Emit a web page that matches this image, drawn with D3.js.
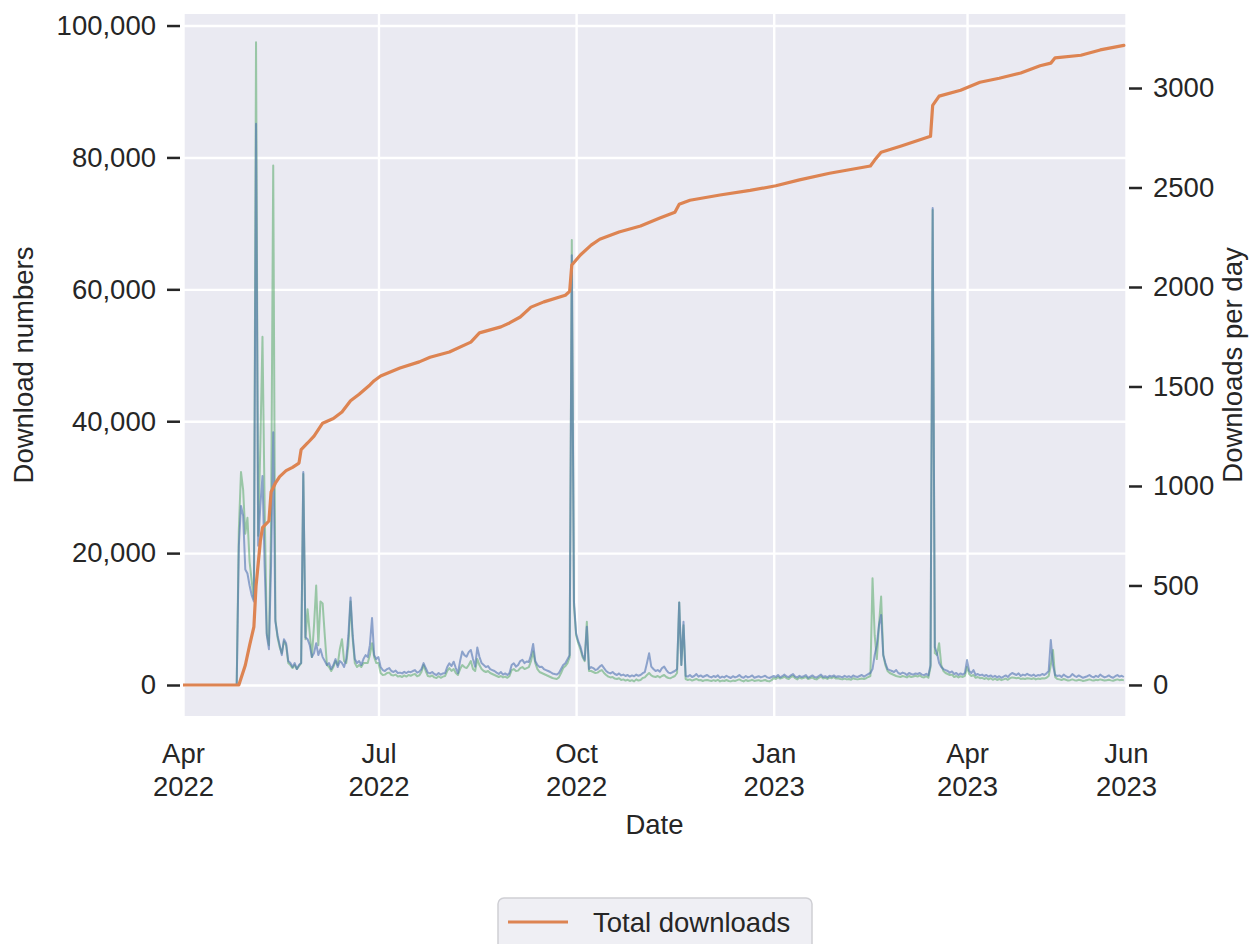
<!DOCTYPE html>
<html>
<head>
<meta charset="utf-8">
<script src="https://cdn.jsdelivr.net/npm/d3@7"></script>
<style>
  body { margin: 0; background: #ffffff; }
  text { font-family: "Liberation Sans", Arial, Helvetica, sans-serif; fill: #262626; }
</style>
</head>
<body>
<svg id="chart" width="1256" height="944"></svg>
<script>
// ---- data -------------------------------------------------------------
const dayStart = "2022-04-01";      // first day of the daily series
const xDomain = ["2022-04-01", "2023-06-14"];

// downloads per day, first source (one value per day from dayStart)
const perDayBlue = [
  // Apr 2022
  0,0,0,0,0,0,0,0,0,0, 0,0,0,0,0,0,0,0,0,0, 0,0,0,0,0,0, 700,900,850,580,
  // May 2022
  560,500,450,420,2820,700,900,1050,600,250, 180,600,1270,320,250,200,150,230,210,120,
  110,90,110,80,100,110,1070,240,230,200, 140,
  // Jun 2022
  160,210,150,180,140,120,100,110,80,100, 130,90,120,110,90,130,250,440,250,130,
  110,120,100,130,150,140,200,336,150,130,
  // Jul 2022
  140,90,75,70,80,85,70,65,72,60, 62,58,66,60,67,64,70,75,62,67,
  80,110,85,62,58,65,55,50,60,52, 58,
  // Aug 2022
  60,90,109,95,117,85,59,120,168,150, 142,165,176,130,92,188,142,110,100,90,
  95,80,75,70,62,55,65,52,58,50, 60,
  // Sep 2022
  100,109,92,100,120,126,110,118,115,150, 206,120,100,90,92,80,75,70,65,58,
  55,52,60,80,100,109,130,150,2160,420,
  // Oct 2022
  260,220,193,150,126,293,80,90,85,75, 80,92,100,85,70,62,58,65,55,50,
  58,48,52,45,50,42,48,44,52,46, 50,
  // Nov 2022
  59,65,110,159,92,80,70,75,67,85, 92,75,62,59,65,70,80,415,100,318,
  45,42,50,40,45,55,42,48,40,45,
  // Dec 2022
  50,42,38,45,40,48,36,42,38,46, 40,35,44,38,42,50,40,36,45,38,
  42,48,36,40,44,38,42,46,38,35, 40,
  // Jan 2023
  45,40,50,38,44,52,42,40,48,55, 42,38,46,40,44,50,36,42,48,40,
  38,45,52,40,44,38,46,42,48,40, 44,
  // Feb 2023
  42,38,46,40,44,38,48,42,40,45, 50,42,48,55,60,80,150,200,300,352,
  150,110,80,75,70,65,75,60,
  // Mar 2023
  55,62,58,50,60,55,52,58,55,60, 52,50,56,48,100,2397,190,160,110,90,
  80,75,70,62,68,55,60,50,58,52, 60,
  // Apr 2023
  125,70,60,75,50,55,48,52,45,50, 42,48,40,46,38,44,36,42,48,40,
  52,60,55,50,58,45,52,48,56,50,
  // May 2023
  46,52,44,50,48,55,50,58,70,226, 100,50,45,48,40,52,44,38,42,55,
  46,40,48,42,36,40,44,50,42,38, 46,
  // Jun 2023
  40,52,44,38,42,48,40,36,44,50,42,46,40
];

// downloads per day, second source
const perDayGreen = [
  // Apr 2022
  0,0,0,0,0,0,0,0,0,0, 0,0,0,0,0,0,0,0,0,0, 0,0,0,0,0,0, 780,1070,980,760,
  // May 2022
  840,620,520,430,3230,750,1200,1750,900,260, 200,800,2610,330,240,190,160,220,200,110,
  100,85,100,80,95,110,1060,230,380,260, 140,
  // Jun 2022
  300,500,200,420,410,250,100,90,70,90, 120,100,180,230,120,110,200,420,230,110,
  90,100,90,110,110,110,150,210,140,110,
  // Jul 2022
  110,60,50,52,60,62,50,48,52,42, 45,40,48,42,50,46,52,55,44,48,
  65,100,70,45,42,48,38,35,44,36, 42,
  // Aug 2022
  45,70,85,70,80,60,50,80,100,90, 85,100,120,80,70,130,100,80,70,65,
  70,60,55,50,45,40,45,38,42,36, 45,
  // Sep 2022
  75,80,70,72,85,90,80,85,90,120, 168,110,80,65,60,55,50,45,40,35,
  32,30,38,60,85,95,110,140,2236,400,
  // Oct 2022
  250,210,180,140,120,318,70,70,65,60, 62,70,75,60,50,42,38,40,32,30,
  34,25,28,22,26,20,24,18,28,22, 25,
  // Nov 2022
  35,38,50,60,48,42,40,45,38,45, 50,40,35,34,40,45,60,415,100,300,
  30,25,28,22,26,30,24,25,20,24,
  // Dec 2022
  25,22,20,24,20,26,18,22,20,25, 20,18,22,20,24,28,22,18,25,20,
  22,26,20,22,24,20,22,25,20,18, 24,
  // Jan 2023
  35,30,40,32,36,42,34,30,40,45, 34,28,38,32,36,40,30,34,38,30,
  28,36,42,32,36,30,38,34,40,32, 34,
  // Feb 2023
  30,28,32,28,30,26,34,30,28,30, 32,30,34,40,45,536,250,130,300,444,
  150,100,70,60,55,50,45,42,
  // Mar 2023
  40,45,42,38,45,40,42,46,42,48, 40,38,44,36,90,2387,160,150,210,100,
  70,60,55,50,52,40,45,38,44,40, 46,
  // Apr 2023
  90,55,45,50,36,40,34,36,30,35, 28,34,26,32,25,30,24,28,32,26,
  34,38,36,34,36,30,32,30,34,32,
  // May 2023
  30,34,28,32,30,34,32,36,45,100, 176,40,30,28,25,30,26,22,24,28,
  24,22,26,24,20,22,25,28,24,22, 26,
  // Jun 2023
  24,28,25,22,24,26,23,21,25,28,24,26,23
];

// cumulative downloads
const totalDates = [
  "2022-04-01","2022-04-27","2022-04-30","2022-05-02","2022-05-04","2022-05-05","2022-05-07",
  "2022-05-08","2022-05-11","2022-05-12","2022-05-14","2022-05-16","2022-05-19","2022-05-22",
  "2022-05-25","2022-05-26","2022-05-29","2022-06-01","2022-06-05","2022-06-10","2022-06-14",
  "2022-06-18","2022-06-22","2022-06-27","2022-06-29","2022-07-02","2022-07-11","2022-07-20",
  "2022-07-25","2022-08-03","2022-08-13","2022-08-17","2022-08-27","2022-08-31","2022-09-05",
  "2022-09-10","2022-09-16","2022-09-26","2022-09-28","2022-09-29","2022-10-03","2022-10-08",
  "2022-10-12","2022-10-21","2022-10-31","2022-11-09","2022-11-16","2022-11-18","2022-11-23",
  "2022-12-07","2022-12-21","2023-01-02","2023-01-13","2023-01-27","2023-02-15","2023-02-17",
  "2023-02-20","2023-03-01","2023-03-15","2023-03-16","2023-03-19","2023-03-29","2023-04-07",
  "2023-04-16","2023-04-26","2023-05-05","2023-05-10","2023-05-12","2023-05-24","2023-06-02",
  "2023-06-13"
];
const totalValues = [
  0,0,3000,6000,8800,15000,21800,
  23850,24870,29260,30600,31600,32500,33000,
  33650,35700,36700,37750,39700,40400,41400,
  43100,44100,45500,46140,46850,48070,49000,
  49700,50500,52000,53400,54300,54900,55800,
  57300,58100,59100,59700,63700,65200,66700,
  67600,68700,69600,70800,71700,72900,73500,
  74300,75000,75700,76600,77600,78700,79600,
  80800,81700,83200,87900,89300,90200,91400,
  92000,92800,93900,94300,95100,95500,96300,
  97000
];

// axis ticks
const leftTicks = [0, 20000, 40000, 60000, 80000, 100000];
const rightTicks = [0, 500, 1000, 1500, 2000, 2500, 3000];
const xTickDates = ["2022-04-01","2022-07-01","2022-10-01","2023-01-01","2023-04-01","2023-06-14"];
const xTickLabels = [["Apr","2022"],["Jul","2022"],["Oct","2022"],["Jan","2023"],["Apr","2023"],["Jun","2023"]];
const legendLabels = ["Total downloads"];

// ---- layout -----------------------------------------------------------
const plot = { left: 183, right: 1126, top: 14, bottom: 716 };
const colors = { bg: "#EAEAF2", blue: "#4C72B0", green: "#55A868", orange: "#DD8452", ink: "#262626" };
const fontSize = 27.5;

const parse = d3.utcParse("%Y-%m-%d");
const start = parse(dayStart);

const x = d3.scaleUtc().domain(xDomain.map(parse)).range([plot.left, plot.right]);
const yLeft = d3.scaleLinear().domain([-4700, 101750]).range([plot.bottom, plot.top]);
const yRight = d3.scaleLinear().domain([-156, 3372]).range([plot.bottom, plot.top]);

const svg = d3.select("#chart");

// plot background
svg.append("rect")
  .attr("x", plot.left).attr("y", plot.top)
  .attr("width", plot.right - plot.left).attr("height", plot.bottom - plot.top)
  .attr("fill", colors.bg);

// grid: horizontal from left axis, vertical from date ticks
const gridY = svg.append("g")
  .attr("transform", `translate(${plot.left},0)`)
  .call(d3.axisLeft(yLeft).tickValues(leftTicks).tickSize(-(plot.right - plot.left)).tickFormat(""));
gridY.select(".domain").remove();
gridY.selectAll("line").attr("stroke", "#ffffff").attr("stroke-width", 2.4);

const gridX = svg.append("g")
  .attr("transform", `translate(0,${plot.bottom})`)
  .call(d3.axisBottom(x).tickValues(xTickDates.map(parse)).tickSize(-(plot.bottom - plot.top)).tickFormat(""));
gridX.select(".domain").remove();
gridX.selectAll("line").attr("stroke", "#ffffff").attr("stroke-width", 2.4);

// clip for series
svg.append("clipPath").attr("id", "plotClip")
  .append("rect")
  .attr("x", plot.left).attr("y", plot.top)
  .attr("width", plot.right - plot.left).attr("height", plot.bottom - plot.top);

const daily = arr => arr.map((v, i) => ({ date: d3.utcDay.offset(start, i), v }));
const lineRight = d3.line().x(d => x(d.date)).y(d => yRight(d.v));
const lineLeft = d3.line().x(d => x(d.date)).y(d => yLeft(d.v));

const series = svg.append("g").attr("clip-path", "url(#plotClip)");

series.append("path")
  .datum(daily(perDayGreen))
  .attr("d", lineRight)
  .attr("fill", "none")
  .attr("stroke", colors.green)
  .attr("stroke-opacity", 0.55)
  .attr("stroke-width", 2)
  .attr("stroke-linejoin", "round");

series.append("path")
  .datum(daily(perDayBlue))
  .attr("d", lineRight)
  .attr("fill", "none")
  .attr("stroke", colors.blue)
  .attr("stroke-opacity", 0.6)
  .attr("stroke-width", 2)
  .attr("stroke-linejoin", "round");

const totals = totalDates.map((d, i) => ({ date: parse(d), v: totalValues[i] }));
series.append("path")
  .datum(totals)
  .attr("d", lineLeft)
  .attr("fill", "none")
  .attr("stroke", colors.orange)
  .attr("stroke-width", 3.2)
  .attr("stroke-linejoin", "round")
  .attr("stroke-linecap", "round");

// left axis
const axL = svg.append("g")
  .attr("transform", `translate(${plot.left - 3},0)`)
  .call(d3.axisLeft(yLeft).tickValues(leftTicks).tickFormat(d3.format(",")).tickSize(13).tickPadding(11));
axL.select(".domain").remove();
axL.selectAll("line").attr("stroke", colors.ink).attr("stroke-width", 2.5);
axL.selectAll("text").attr("font-size", fontSize).attr("fill", colors.ink).attr("font-family", null);

// right axis
const axR = svg.append("g")
  .attr("transform", `translate(${plot.right + 3},0)`)
  .call(d3.axisRight(yRight).tickValues(rightTicks).tickFormat(d3.format("d")).tickSize(13).tickPadding(11));
axR.select(".domain").remove();
axR.selectAll("line").attr("stroke", colors.ink).attr("stroke-width", 2.5);
axR.selectAll("text").attr("font-size", fontSize).attr("fill", colors.ink).attr("font-family", null);

// bottom axis: two-line month / year labels
const axB = svg.append("g")
  .attr("transform", `translate(0,${plot.bottom})`)
  .call(d3.axisBottom(x).tickValues(xTickDates.map(parse)).tickSize(0).tickFormat(""));
axB.select(".domain").remove();
axB.selectAll(".tick text").remove();
axB.selectAll(".tick").each(function(d, i) {
  const t = d3.select(this).append("text")
    .attr("text-anchor", "middle")
    .attr("font-size", fontSize)
    .attr("fill", colors.ink);
  t.append("tspan").attr("x", 0).attr("y", 47).text(xTickLabels[i][0]);
  t.append("tspan").attr("x", 0).attr("y", 80).text(xTickLabels[i][1]);
});

// axis titles
svg.append("text")
  .attr("x", (plot.left + plot.right) / 2).attr("y", 834)
  .attr("text-anchor", "middle").attr("font-size", fontSize)
  .text("Date");

svg.append("text")
  .attr("transform", `translate(33,${(plot.top + plot.bottom) / 2}) rotate(-90)`)
  .attr("text-anchor", "middle").attr("font-size", fontSize)
  .text("Download numbers");

svg.append("text")
  .attr("transform", `translate(1242,${(plot.top + plot.bottom) / 2}) rotate(-90)`)
  .attr("text-anchor", "middle").attr("font-size", fontSize)
  .text("Downloads per day");

// legend
const lg = svg.append("g").attr("transform", "translate(498,898)");
lg.append("rect")
  .attr("x", 0).attr("y", 0).attr("width", 314).attr("height", 80)
  .attr("rx", 6).attr("ry", 6)
  .attr("fill", "#EFEFF4").attr("stroke", "#CFCFD4").attr("stroke-width", 1.5);
lg.append("line")
  .attr("x1", 10).attr("x2", 70).attr("y1", 24).attr("y2", 24)
  .attr("stroke", colors.orange).attr("stroke-width", 3.2);
lg.append("text")
  .attr("x", 95).attr("y", 34).attr("font-size", fontSize)
  .text(legendLabels[0]);
</script>
</body>
</html>
